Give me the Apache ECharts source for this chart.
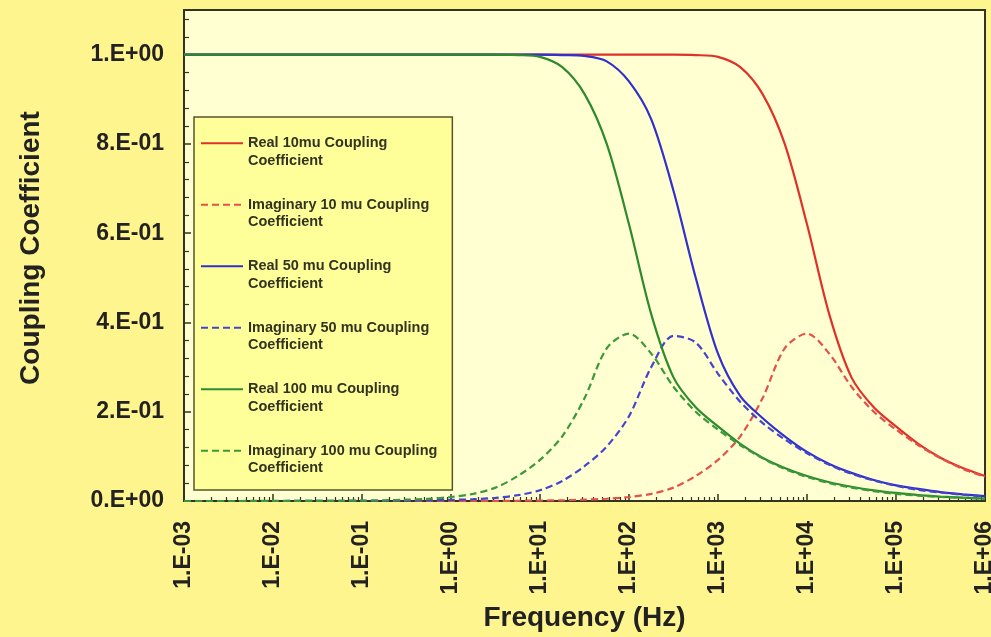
<!DOCTYPE html>
<html>
<head>
<meta charset="utf-8">
<script src="https://cdn.jsdelivr.net/npm/echarts@6/dist/echarts.min.js"></script>
<style>
html,body{margin:0;padding:0;background:#FFF58F;}
#chart{width:991px;height:637px;}
</style>
</head>
<body>
<div id="chart"></div>
<script>
// Frequencies (Hz), quarter-decade grid
var freq = [0.001, 0.00178, 0.00316, 0.00562,
  0.01, 0.0178, 0.0316, 0.0562,
  0.1, 0.178, 0.316, 0.562,
  1, 1.78, 3.16, 5.62,
  10, 17.8, 31.6, 56.2,
  100, 178, 316, 562,
  1000, 1780, 3160, 5620,
  10000, 17800, 31600, 56200,
  100000, 178000, 316000, 562000,
  1000000];

var real10 = [1,1,1,1, 1,1,1,1, 1,1,1,1, 1,1,1,1, 1,1,1,1, 1,1,1,
  0.999, 0.995, 0.972, 0.912, 0.80, 0.62, 0.418, 0.277, 0.21, 0.167, 0.128, 0.097, 0.074, 0.056];
var imag10 = [0,0,0,0, 0,0,0,0, 0,0,0, 0.0001, 0.0001, 0.0002, 0.0003, 0.0005,
  0.001, 0.0016, 0.003, 0.005, 0.009, 0.016, 0.030, 0.056, 0.092, 0.145, 0.23, 0.342,
  0.375, 0.33, 0.256, 0.20, 0.16, 0.125, 0.096, 0.072, 0.054];
var real50 = [1,1,1,1, 1,1,1,1, 1,1,1,1, 1,1,1,1, 1,
  0.999, 0.997, 0.985, 0.94, 0.855, 0.695, 0.50, 0.33, 0.235, 0.186, 0.145,
  0.110, 0.083, 0.063, 0.047, 0.035, 0.027, 0.020, 0.015, 0.011];
var imag50 = [0,0,0,0, 0, 0.0001, 0.0001, 0.0001, 0.0003, 0.0004, 0.0008, 0.0014,
  0.0024, 0.004, 0.007, 0.013, 0.024, 0.045, 0.078, 0.122, 0.19, 0.30, 0.37, 0.355,
  0.285, 0.222, 0.175, 0.138, 0.107, 0.081, 0.061, 0.046, 0.034, 0.025, 0.019, 0.014, 0.010];
var real100 = [1,1,1,1, 1,1,1,1, 1,1,1,1, 1,1, 1,
  0.999, 0.995, 0.972, 0.912, 0.80, 0.62, 0.418, 0.277, 0.21, 0.167, 0.128, 0.097, 0.074,
  0.056, 0.042, 0.032, 0.024, 0.018, 0.013, 0.010, 0.0075, 0.0055];
var imag100 = [0,0,0, 0.0001, 0.0001, 0.0002, 0.0003, 0.0005, 0.001, 0.0016, 0.003, 0.005,
  0.009, 0.016, 0.030, 0.056, 0.092, 0.145, 0.23, 0.342, 0.375, 0.33, 0.256, 0.20,
  0.16, 0.125, 0.096, 0.072, 0.054, 0.040, 0.030, 0.022, 0.016, 0.012, 0.009, 0.007, 0.005];

var seriesNames = [
  'Real 10mu Coupling\nCoefficient',
  'Imaginary 10 mu Coupling\nCoefficient',
  'Real 50 mu Coupling\nCoefficient',
  'Imaginary 50 mu Coupling\nCoefficient',
  'Real 100 mu Coupling\nCoefficient',
  'Imaginary 100 mu Coupling\nCoefficient'
];
var xTickLabels = ['1.E-03','1.E-02','1.E-01','1.E+00','1.E+01','1.E+02','1.E+03','1.E+04','1.E+05','1.E+06'];
var yTickLabels = ['0.E+00','2.E-01','4.E-01','6.E-01','8.E-01','1.E+00'];

var colors = ['#E0302A', '#E5504A', '#3030CC', '#4545CC', '#2E8A2E', '#3A9A3A'];
var dashed = [false, true, false, true, false, true];
var values = [real10, imag10, real50, imag50, real100, imag100];

// log-spaced minor tick positions (2..9 per decade)
var minorTicks = [];
for (var e = -3; e < 6; e++) {
  for (var m = 2; m <= 9; m++) minorTicks.push(m * Math.pow(10, e));
}

var FONT = '"Liberation Sans", Arial, sans-serif';
var TXT = '#222222';

var series = values.map(function (arr, k) {
  return {
    name: seriesNames[k],
    type: 'line',
    xAxisIndex: 0,
    showSymbol: false,
    symbol: 'none',
    smooth: 0.3,
    data: arr.map(function (v, i) { return [freq[i], v]; }),
    lineStyle: { color: colors[k], width: 2.2, type: dashed[k] ? [7, 4] : 'solid' },
    itemStyle: { color: colors[k] },
    emphasis: { disabled: true }
  };
});

var chart = echarts.init(document.getElementById('chart'));
chart.setOption({
  backgroundColor: '#FFF58F',
  animation: false,
  grid: {
    left: 184, right: 6, top: 10, bottom: 136,
    outerBoundsMode: 'none',
    containLabel: false,
    show: true, backgroundColor: '#FFFFD2', borderColor: '#333322', borderWidth: 2
  },
  legend: {
    orient: 'vertical',
    left: 194, top: 117,
    padding: [0, 15, 13, 6],
    itemWidth: 42, itemHeight: 14, itemGap: 9,
    backgroundColor: '#FFFF9A',
    borderColor: '#55552A', borderWidth: 1.5,
    selectedMode: false,
    data: seriesNames,
    itemStyle: { opacity: 0, color: 'rgba(0,0,0,0)', borderWidth: 0 },
    formatter: function (name) { return '\n' + name; },
    textStyle: {
      fontFamily: FONT, fontSize: 14.5, fontWeight: 'bold', color: '#333322',
      lineHeight: 17.5
    }
  },
  xAxis: [{
    type: 'log', logBase: 10, min: 0.001, max: 1000000, interval: 1,
    position: 'bottom',
    name: 'Frequency (Hz)', nameLocation: 'middle', nameGap: 103,
    nameTextStyle: { fontFamily: FONT, fontSize: 28, fontWeight: 'bold', color: TXT },
    axisLine: { lineStyle: { color: '#333322', width: 2 } },
    axisTick: { inside: true, length: 7, lineStyle: { color: '#333322', width: 1.5 } },
    axisLabel: {
      rotate: 90, margin: 20, fontFamily: FONT, fontSize: 23, fontWeight: 'bold', color: TXT,
      formatter: function (v) {
        var idx = Math.round(Math.log10(v)) + 3;
        return xTickLabels[idx] || '';
      }
    },
    splitLine: { show: false }
  }, {
    type: 'log', logBase: 10, min: 0.001, max: 1000000,
    position: 'bottom', offset: 0,
    axisLine: { show: false },
    axisLabel: { show: false },
    axisTick: { show: true, inside: true, length: 4, customValues: minorTicks,
      lineStyle: { color: '#333322', width: 1.2 } },
    splitLine: { show: false }
  }],
  yAxis: {
    type: 'value', min: 0, max: 1.1, interval: 0.2,
    name: 'Coupling Coefficient', nameLocation: 'middle', nameGap: 139, nameRotate: 90,
    nameTextStyle: { fontFamily: FONT, fontSize: 28, fontWeight: 'bold', color: TXT,
      padding: [0, 0, 0, 15] },
    axisLine: { show: true, lineStyle: { color: '#333322', width: 2 } },
    axisTick: { inside: true, length: 7, lineStyle: { color: '#333322', width: 1.5 } },
    minorTick: { show: true, splitNumber: 5, length: 5, lineStyle: { color: '#333322', width: 1.2 } },
    axisLabel: {
      margin: 20, fontFamily: FONT, fontSize: 23, fontWeight: 'bold', color: TXT,
      formatter: function (v) {
        var q = v / 0.2, r = Math.round(q);
        if (Math.abs(q - r) > 1e-6) return '';
        return yTickLabels[r] || '';
      }
    },
    splitLine: { show: false }
  },
  series: series
});
</script>
</body>
</html>
